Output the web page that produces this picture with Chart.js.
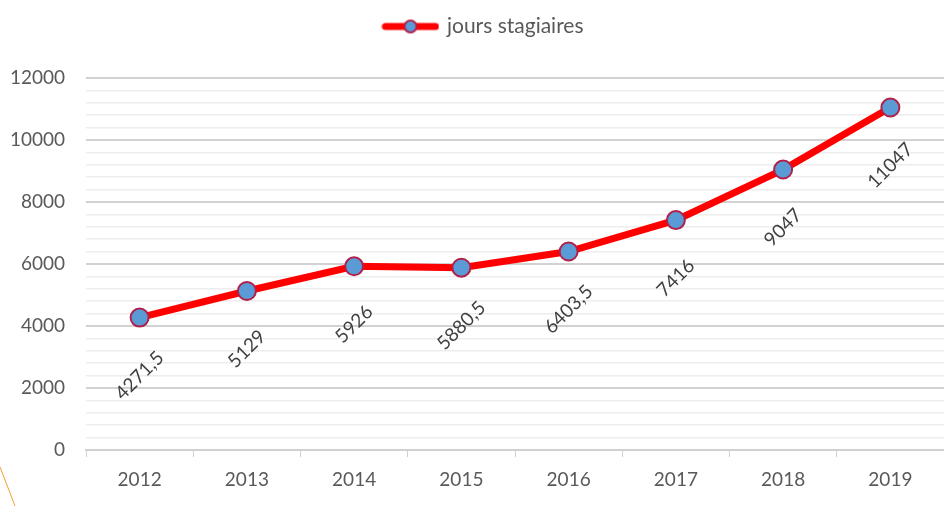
<!DOCTYPE html>
<html>
<head>
<meta charset="utf-8">
<script src="https://cdn.jsdelivr.net/npm/chart.js@4.4.1/dist/chart.umd.min.js"></script>
<style>
  html, body { margin: 0; padding: 0; background: #fff; }
  #wrap { width: 944px; height: 506px; position: relative; }
</style>
</head>
<body>
<div id="wrap"><canvas id="c" width="944" height="506"></canvas></div>
<script>
const categories = ['2012', '2013', '2014', '2015', '2016', '2017', '2018', '2019'];
const seriesName = 'jours stagiaires';
const values = [4271.5, 5129, 5926, 5880.5, 6403.5, 7416, 9047, 11047];
const valueLabels = ['4271,5', '5129', '5926', '5880,5', '6403,5', '7416', '9047', '11047'];
const yMin = 0, yMax = 12000, yMinorStep = 400, yMajorStep = 2000;

const FONT = 'Lato, "Open Sans", sans-serif';

// legend sample: line with marker
const legendImg = document.createElement('canvas');
legendImg.width = 58; legendImg.height = 16;
(function () {
  const g = legendImg.getContext('2d');
  g.strokeStyle = '#FF0000'; g.lineWidth = 7; g.lineCap = 'round';
  g.beginPath(); g.moveTo(4, 8); g.lineTo(54, 8); g.stroke();
  g.beginPath(); g.arc(29, 8, 6, 0, Math.PI * 2);
  g.fillStyle = '#5B9BD5'; g.fill();
  g.lineWidth = 2; g.strokeStyle = '#B0204A'; g.stroke();
})();

const dataLabelPlugin = {
  id: 'dataLabels',
  afterDatasetsDraw(chart) {
    const ctx = chart.ctx;
    const meta = chart.getDatasetMeta(0);
    ctx.save();
    ctx.font = '19px ' + FONT;
    ctx.fillStyle = '#404040';
    ctx.textAlign = 'center';
    ctx.textBaseline = 'middle';
    meta.data.forEach((pt, i) => {
      ctx.save();
      ctx.translate(pt.x, pt.y + 58);
      ctx.rotate(-Math.PI / 4);
      ctx.fillText(valueLabels[i], 0, 0);
      ctx.restore();
    });
    ctx.restore();
  }
};

const legendFitPlugin = {
  id: 'legendFit',
  beforeLayout(chart) {
    const lg = chart.legend;
    if (lg && !lg._patched) {
      const f = lg.fit;
      lg.fit = function () { f.call(this); this.height = 78; };
      const d = lg.draw;
      lg.draw = function () {
        const ctx = this.ctx;
        ctx.save(); ctx.translate(12, 0);
        d.apply(this, arguments);
        ctx.restore();
      };
      lg._patched = true;
    }
  }
};

const decoPlugin = {
  id: 'deco',
  afterDraw(chart) {
    const ctx = chart.ctx;
    ctx.save();
    ctx.strokeStyle = '#F0A030';
    ctx.lineWidth = 1;
    ctx.beginPath(); ctx.moveTo(0, 467); ctx.lineTo(15, 506); ctx.stroke();
    ctx.restore();
  }
};

new Chart(document.getElementById('c'), {
  type: 'line',
  data: {
    labels: categories,
    datasets: [{
      label: seriesName,
      data: values,
      borderColor: '#FF0000',
      borderWidth: 7,
      tension: 0,
      pointRadius: 9,
      pointHoverRadius: 9,
      pointBackgroundColor: '#5B9BD5',
      pointBorderColor: '#B0204A',
      pointBorderWidth: 2,
      pointStyle: 'circle',
      fill: false
    }]
  },
  options: {
    responsive: false,
    animation: false,
    layout: { autoPadding: false, padding: { top: 0, right: 0, bottom: 0, left: 0 } },
    plugins: {
      tooltip: { enabled: false },
      legend: {
        display: true,
        position: 'top',
        labels: {
          usePointStyle: true,
          pointStyle: legendImg,
          pointStyleWidth: 52,
          padding: 16,
          color: '#595959',
          font: { family: FONT, size: 21 },
          generateLabels(chart) {
            return [{ text: seriesName, pointStyle: legendImg, fillStyle: 'transparent', strokeStyle: 'transparent', lineWidth: 0, datasetIndex: 0, fontColor: '#595959' }];
          }
        }
      }
    },
    scales: {
      x: {
        type: 'category',
        offset: true,
        grid: { display: true, drawOnChartArea: false, drawTicks: true, tickLength: 7, color: '#D0D0D0', lineWidth: 1, offset: true },
        border: { display: true, color: '#D0D0D0', width: 2 },
        ticks: { color: '#595959', font: { family: FONT, size: 19 }, padding: 11, maxRotation: 0 },
        afterFit(scale) { scale.height = 56; scale.paddingRight = 0; scale.paddingLeft = 0; }
      },
      y: {
        min: yMin,
        max: yMax,
        border: { display: false },
        grid: {
          drawTicks: false,
          color(ctx) { return (ctx.tick && ctx.tick.value % yMajorStep === 0) ? '#D2D2D2' : '#EDEDED'; },
          lineWidth(ctx) { return (ctx.tick && ctx.tick.value % yMajorStep === 0) ? 2 : 1.5; }
        },
        ticks: {
          stepSize: yMinorStep,
          autoSkip: false,
          color: '#595959',
          font: { family: FONT, size: 19 },
          padding: 21,
          callback(v) { return v % yMajorStep === 0 ? String(v) : ''; }
        },
        afterFit(scale) { scale.width = 86; }
      }
    }
  },
  plugins: [legendFitPlugin, dataLabelPlugin, decoPlugin]
});
</script>
</body>
</html>
